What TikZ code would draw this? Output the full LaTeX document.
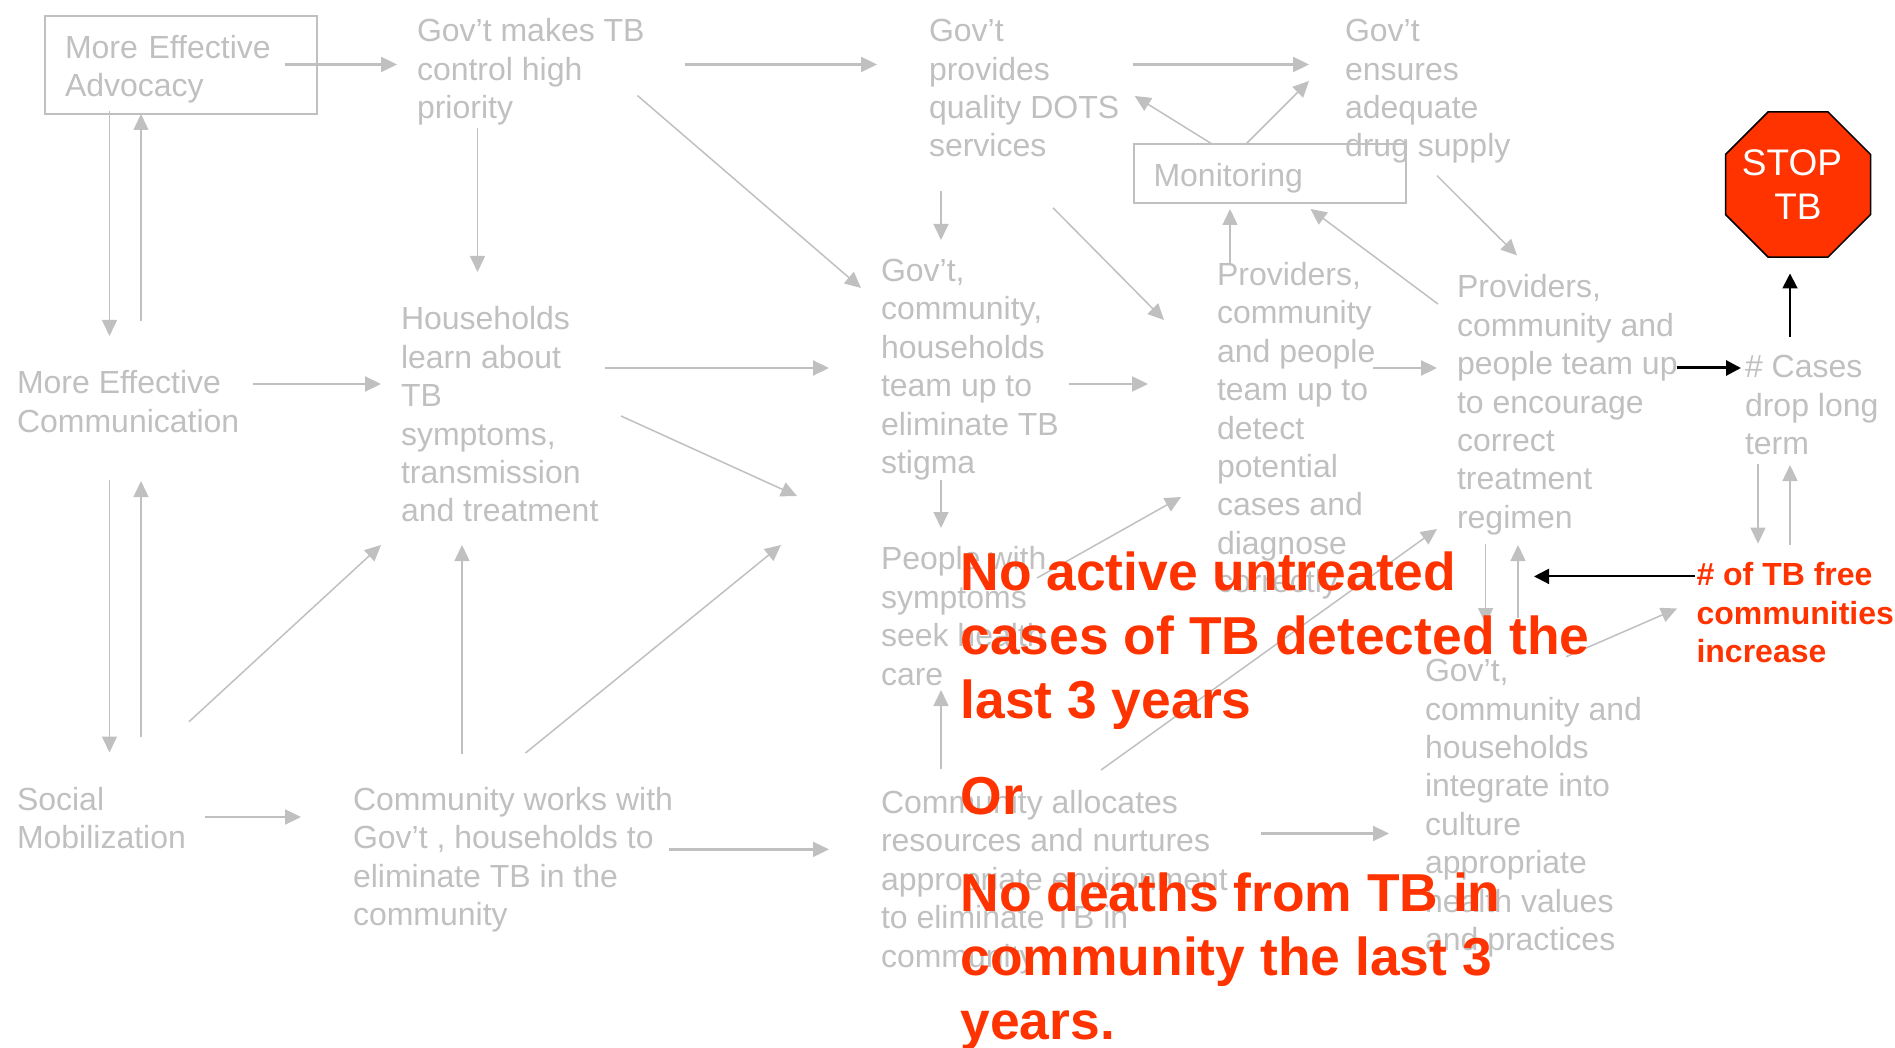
\documentclass[tikz,border=0pt]{standalone}
\usepackage{fontspec}
\setmainfont{Liberation Sans}
\usetikzlibrary{arrows.meta,shapes.geometric}
\definecolor{fadegrey}{HTML}{C0C0C0}
\definecolor{stopred}{HTML}{FF3300}
\newcommand{\topstrut}{\rule{0pt}{37.4pt}}
\newcommand{\botstrut}{\rule[-12.1pt]{0pt}{1pt}}
\newcommand{\lead}[1]{\rule[-11.5pt]{0pt}{\dimexpr38.38pt+#1pt\relax}}
\tikzset{
  stage/.style={anchor=north west,inner sep=0pt,outer sep=0pt,align=left,text=fadegrey,font=\fontsize{32}{38.4}\selectfont},
  boxed/.style={stage,draw=fadegrey,line width=2pt,inner xsep=20pt,inner ysep=5pt,text width=232pt},
  redlabel/.style={stage,text=stopred,font=\fontsize{32}{38.4}\selectfont\bfseries},
  goal/.style={stage,text=stopred,font=\fontsize{53.4}{64}\selectfont\bfseries},
  flow/.style={draw=fadegrey,line width=1.5pt,-{Triangle[length=16pt,width=15pt]}},
  flowthick/.style={flow,line width=2.2pt},
  result/.style={draw=black,line width=2pt,-{Triangle[length=15pt,width=15pt]}},
}
\begin{document}
\begin{tikzpicture}[x=1pt,y=-1pt]
\useasboundingbox (0,0) rectangle (1895,1048);
\node[boxed] (advocacy) at (45,16) {\topstrut More Effective\\Advocacy\botstrut};
\node[boxed] (monitoring) at (1133.5,144) {\topstrut Monitoring\botstrut};
\node[stage] (govtb) at (417,13.6) {\lead{1.2}Gov’t makes TB\\control high\\priority};
\node[stage] (dots) at (929,13.6) {\lead{1.2}Gov’t\\provides\\quality DOTS\\services};
\node[stage] (supply) at (1345,13.6) {\lead{1.2}Gov’t\\ensures\\adequate\\drug supply};
\node[stage] (effcomm) at (17,365.1) {\lead{2}More Effective\\Communication};
\node[stage] (households) at (401,301.1) {\lead{2}Households\\learn about\\TB\\symptoms,\\transmission\\and treatment};
\node[stage] (teamup) at (881,252.1) {\lead{2.6}Gov’t,\\community,\\households\\team up to\\eliminate TB\\stigma};
\node[stage] (peoplecare) at (881,542.1) {\lead{1}People with\\symptoms\\seek health\\care};
\node[stage] (social) at (17,783.6) {\lead{0}Social\\Mobilization};
\node[stage] (works) at (353,783.6) {\lead{0}Community works with\\Gov’t , households to\\eliminate TB in the\\community};
\node[stage] (allocates) at (881,786.1) {\lead{0.6}Community allocates\\resources and nurtures\\appropriate environment\\to eliminate TB in\\community};
\node[stage] (detect) at (1217,258.1) {\lead{0.5}Providers,\\community\\and people\\team up to\\detect\\potential\\cases and\\diagnose\\correctly};
\node[stage] (treatment) at (1457,270.1) {\lead{1}Providers,\\community and\\people team up\\to encourage\\correct\\treatment\\regimen};
\node[stage] (cases) at (1745,349.1) {\lead{2}\# Cases\\drop long\\term};
\node[stage] (integrate) at (1425,654.6) {\lead{0.3}Gov’t,\\community and\\households\\integrate into\\culture\\appropriate\\health values\\and practices};
\node[regular polygon,regular polygon sides=8,minimum size=157pt,inner sep=0pt,outer sep=0pt,fill=stopred,draw=black,line width=1.5pt,text=white,align=center,font=\fontsize{37}{44}\selectfont] (stop) at (1798,184.5) {\makebox[0pt]{\hspace*{-12pt}STOP}\\TB};
\draw[flowthick] ([shift={(240,48.5)}]advocacy.north west) -- ([shift={(-20,50.9)}]govtb.north west);
\draw[flowthick] ([shift={(268,50.9)}]govtb.north west) -- ([shift={(-52,50.9)}]dots.north west);
\draw[flow] ([shift={(60.5,114.4)}]govtb.north west) -- ([shift={(76.5,-29.1)}]households.north west);
\draw[flow] ([shift={(220.5,82)}]govtb.north west) -- ([shift={(-20,35.9)}]teamup.north west);
\draw[flow] ([shift={(64.5,95.5)}]advocacy.north west) -- ([shift={(92.5,-29.1)}]effcomm.north west);
\draw[flow] ([shift={(124,-44.1)}]effcomm.north west) -- ([shift={(96,98)}]advocacy.north west);
\draw[flowthick] ([shift={(236,18.9)}]effcomm.north west) -- ([shift={(-20,82.9)}]households.north west);
\draw[flowthick] ([shift={(204,66.9)}]households.north west) -- ([shift={(-52,115.9)}]teamup.north west);
\draw[flow] ([shift={(220,114.9)}]households.north west) -- ([shift={(-84,-46.1)}]peoplecare.north west);
\draw[flow] ([shift={(12,177.9)}]dots.north west) -- ([shift={(60,-12.1)}]teamup.north west);
\draw[flow] ([shift={(60,227.9)}]teamup.north west) -- ([shift={(60,-14.1)}]peoplecare.north west);
\draw[flow] ([shift={(92.5,114.9)}]effcomm.north west) -- ([shift={(92.5,-31.1)}]social.north west);
\draw[flow] ([shift={(124,-46.6)}]social.north west) -- ([shift={(124,115.9)}]effcomm.north west);
\draw[flow] ([shift={(172,-61.9)}]social.north west) -- ([shift={(-20,243.9)}]households.north west);
\draw[flow] ([shift={(109,-29.6)}]works.north west) -- ([shift={(61,243.9)}]households.north west);
\draw[flow] ([shift={(172.5,-30.6)}]works.north west) -- ([shift={(-100,2.9)}]peoplecare.north west);
\draw[flowthick] ([shift={(188,33.4)}]social.north west) -- ([shift={(-52,33.4)}]works.north west);
\draw[flowthick] ([shift={(315.5,65.8)}]works.north west) -- ([shift={(-52,63.3)}]allocates.north west);
\draw[flow] ([shift={(60,-17.1)}]allocates.north west) -- ([shift={(60,147.9)}]peoplecare.north west);
\draw[flowthick] ([shift={(204,50.9)}]dots.north west) -- ([shift={(-36,50.9)}]supply.north west);
\draw[flow] ([shift={(78.5,0)}]monitoring.north west) -- ([shift={(205.7,82.4)}]dots.north west);
\draw[flow] ([shift={(112.5,0)}]monitoring.north west) -- ([shift={(-36,67.4)}]supply.north west);
\draw[flow] ([shift={(92,162.1)}]supply.north west) -- ([shift={(60,-14.7)}]treatment.north west);
\draw[flow] ([shift={(124,194.2)}]dots.north west) -- ([shift={(-53,61.9)}]detect.north west);
\draw[flowthick] ([shift={(188,131.9)}]teamup.north west) -- ([shift={(-69,125.9)}]detect.north west);
\draw[flow] ([shift={(13,6.9)}]detect.north west) -- ([shift={(96.5,65)}]monitoring.north west);
\draw[flow] ([shift={(-19,33.9)}]treatment.north west) -- ([shift={(177,65)}]monitoring.north west);
\draw[flowthick] ([shift={(156,109.9)}]detect.north west) -- ([shift={(-20,97.9)}]treatment.north west);
\draw[result,line width=3pt] ([shift={(219.5,97.9)}]treatment.north west) -- ([shift={(-4,18.9)}]cases.north west);
\draw[result] ([shift={(45,-12.1)}]cases.north west) -- ([shift={(-8,89)}]stop.center);
\node[redlabel] (free) at (1696.5,558.1) {\lead{1}\# of TB free\\communities\\increase};
\draw[flow] ([shift={(13,114.4)}]cases.north west) -- ([shift={(61.5,-14.5)}]free.north west);
\draw[flow] ([shift={(93.5,-13.1)}]free.north west) -- ([shift={(45,115.9)}]cases.north west);
\draw[flow] ([shift={(156,35.9)}]peoplecare.north west) -- ([shift={(-36,238.9)}]detect.north west);
\draw[flow] ([shift={(220,-16.1)}]allocates.north west) -- ([shift={(-20,258.9)}]treatment.north west);
\draw[result] ([shift={(-1.5,18.3)}]free.north west) -- ([shift={(77,306.3)}]treatment.north west);
\draw[flow] ([shift={(28.6,273.5)}]treatment.north west) -- ([shift={(60.6,-30.6)}]integrate.north west);
\draw[flow] ([shift={(93,-36.6)}]integrate.north west) -- ([shift={(61,274.9)}]treatment.north west);
\draw[flow] ([shift={(141,2.2)}]integrate.north west) -- ([shift={(-19.5,50.4)}]free.north west);
\draw[flowthick] ([shift={(380,47.4)}]allocates.north west) -- ([shift={(-36,178.9)}]integrate.north west);
\node[goal] (notb) at (960.6,544.2) {\rule[-19pt]{0pt}{65pt}No active untreated\\cases of TB detected the\\last 3 years\\[32.4pt]Or\\[32.4pt]No deaths from TB in\\community the last 3\\years.};
\end{tikzpicture}
\end{document}
